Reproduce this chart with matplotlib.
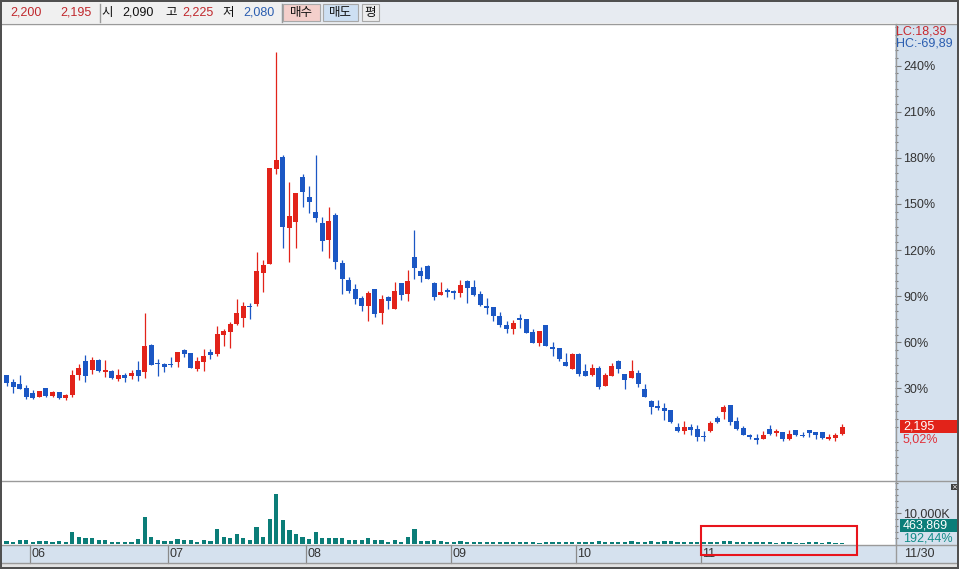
import matplotlib
matplotlib.use("Agg")
import matplotlib.pyplot as plt
from matplotlib import font_manager
from matplotlib.patches import Rectangle
from matplotlib.lines import Line2D
from matplotlib.transforms import blended_transform_factory
from matplotlib.ticker import FixedLocator, FixedFormatter

# ---------------- data (daily candles, won) ----------------
opens = [2900, 2805, 2775, 2720, 2655, 2605, 2720, 2615, 2665, 2590,
         2625, 2900, 3090, 2965, 3100, 2940, 2950, 2845, 2900, 2885,
         2965, 2945, 3305, 3060, 3050, 3045, 3075, 3240, 3195, 2975,
         3075, 3210, 3180, 3440, 3485, 3595, 3675, 3835, 3865, 4285,
         4410, 5705, 5865, 4900, 4985, 5595, 5320, 5115, 4970, 4735,
         5080, 4425, 4190, 4070, 3950, 3840, 4070, 3745, 3960, 3790,
         4150, 4005, 4505, 4315, 4380, 4155, 3985, 4055, 4035, 4015,
         4175, 4095, 4000, 3835, 3820, 3700, 3580, 3525, 3675, 3660,
         3485, 3335, 3580, 3280, 3265, 3075, 2985, 3185, 2950, 2900,
         2995, 2750, 2890, 3090, 2910, 2860, 2925, 2710, 2545, 2475,
         2450, 2420, 2185, 2135, 2190, 2165, 2070, 2135, 2315, 2395,
         2490, 2270, 2175, 2080, 2040, 2030, 2165, 2110, 2125, 2030,
         2150, 2080, 2150, 2125, 2125, 2030, 2040, 2090]
highs = [2900, 2845, 2900, 2760, 2690, 2675, 2720, 2685, 2665, 2635,
         2965, 3050, 3165, 3140, 3110, 3100, 2965, 2980, 2925, 2960,
         3090, 3740, 3315, 3115, 3065, 3140, 3210, 3255, 3195, 3140,
         3250, 3250, 3565, 3520, 3620, 3930, 3890, 3880, 4570, 4460,
         5710, 7290, 5890, 5525, 5370, 5630, 5470, 5890, 5050, 5185,
         5105, 4460, 4225, 4135, 3970, 4045, 4070, 3980, 3970, 4165,
         4150, 4330, 4870, 4365, 4395, 4165, 4165, 4080, 4050, 4190,
         4190, 4190, 4040, 3945, 3820, 3755, 3630, 3640, 3730, 3660,
         3520, 3490, 3580, 3345, 3265, 3195, 3195, 3195, 3050, 3050,
         3025, 2925, 3060, 3100, 2910, 3100, 2965, 2775, 2560, 2560,
         2515, 2420, 2240, 2270, 2230, 2220, 2135, 2270, 2340, 2490,
         2490, 2325, 2205, 2095, 2095, 2135, 2220, 2165, 2125, 2150,
         2150, 2125, 2150, 2125, 2125, 2095, 2110, 2225]
lows = [2750, 2650, 2705, 2570, 2575, 2595, 2595, 2595, 2570, 2555,
        2605, 2830, 2805, 2910, 2945, 2875, 2845, 2820, 2805, 2845,
        2820, 2860, 3035, 2890, 2940, 3010, 3005, 3145, 2995, 2950,
        2955, 3115, 3155, 3290, 3265, 3580, 3550, 3660, 3835, 4025,
        4410, 5630, 4630, 4440, 4630, 5185, 5105, 4985, 4590, 4495,
        4345, 3995, 4015, 3865, 3770, 3635, 3685, 3595, 3790, 3790,
        3920, 3910, 4210, 4165, 4210, 3920, 3985, 3965, 3935, 3965,
        3880, 3970, 3840, 3730, 3635, 3555, 3475, 3460, 3540, 3475,
        3335, 3295, 3295, 3155, 3090, 3025, 2985, 2890, 2890, 2885,
        2710, 2750, 2890, 2930, 2710, 2860, 2740, 2605, 2370, 2420,
        2290, 2250, 2125, 2100, 2080, 2005, 2005, 2125, 2250, 2300,
        2220, 2150, 2080, 2030, 1960, 2030, 2080, 2070, 2000, 2015,
        2070, 2055, 2055, 2030, 2030, 2015, 2000, 2080]
closes = [2785, 2730, 2710, 2605, 2590, 2675, 2615, 2665, 2590, 2625,
          2900, 2995, 2885, 3100, 2955, 2965, 2855, 2900, 2860, 2925,
          2885, 3290, 3040, 3050, 3010, 3030, 3210, 3185, 2995, 3090,
          3155, 3170, 3455, 3500, 3590, 3740, 3835, 3825, 4310, 4395,
          5710, 5820, 4915, 5060, 5370, 5390, 5255, 5035, 4725, 4990,
          4440, 4210, 4045, 3935, 3835, 4010, 3730, 3935, 3910, 4040,
          3990, 4175, 4355, 4250, 4210, 3965, 4025, 4020, 4010, 4120,
          4085, 3985, 3850, 3815, 3705, 3580, 3530, 3605, 3650, 3475,
          3335, 3490, 3295, 3255, 3120, 3025, 3185, 2910, 2890, 2995,
          2740, 2900, 3020, 2985, 2835, 2950, 2780, 2605, 2465, 2445,
          2410, 2265, 2135, 2190, 2150, 2060, 2055, 2245, 2265, 2465,
          2260, 2165, 2080, 2055, 2015, 2080, 2095, 2130, 2030, 2095,
          2085, 2070, 2115, 2085, 2040, 2055, 2080, 2195]
volumes = [980000, 650000, 1300000, 1300000, 650000, 980000, 980000, 650000, 980000, 650000,
           3910000, 2280000, 1950000, 1950000, 1300000, 1300000, 650000, 650000, 650000, 650000,
           1630000, 8800000, 2280000, 1300000, 980000, 980000, 1630000, 1300000, 1300000, 650000,
           1300000, 980000, 4890000, 2280000, 1950000, 3260000, 1950000, 1300000, 5540000, 2280000,
           8150000, 16300000, 7820000, 4560000, 3260000, 2280000, 1630000, 3910000, 1950000, 1950000,
           1950000, 1950000, 1300000, 1300000, 1300000, 1950000, 1300000, 1300000, 650000, 1300000,
           650000, 2280000, 4890000, 980000, 980000, 1300000, 980000, 650000, 650000, 980000,
           650000, 650000, 650000, 650000, 650000, 650000, 650000, 650000, 650000, 650000,
           650000, 350000, 650000, 650000, 650000, 650000, 650000, 650000, 650000, 650000,
           980000, 650000, 650000, 650000, 650000, 980000, 650000, 650000, 980000, 650000,
           980000, 980000, 650000, 650000, 650000, 650000, 650000, 650000, 650000, 980000,
           980000, 650000, 650000, 650000, 650000, 650000, 650000, 350000, 650000, 650000,
           350000, 350000, 650000, 650000, 350000, 650000, 241045, 463869]

month_labels = ["06", "07", "08", "09", "10", "11"]
month_start = [4, 25, 46, 68, 87, 106]
last_date = "11/30"
base_price = 2090            # 0% reference of the right scale
pct_major = [30, 60, 90, 120, 150, 180, 210, 240]
lc_value = 18.39
toolbar_prev = "2,200"

# ---------------- style ----------------
W, H = 959, 569
UP = "#e2231a"
DOWN = "#1b57c4"
VOLC = "#0b7d78"
STRIP = "#d5e1ee"
GRAYLINE = "#9a9a9a"
DARK = "#505050"

names = {f.name for f in font_manager.fontManager.ttflist}
NARROW = "Liberation Sans Narrow" if "Liberation Sans Narrow" in names else "Liberation Sans"
LS = "Liberation Sans"
KR = ["Noto Sans CJK KR", "DejaVu Sans"]
plt.rcParams["font.family"] = [NARROW, "DejaVu Sans"]


def fx(px):
    return px / W


def fy(py):
    return 1 - py / H


fig = plt.figure(figsize=(W / 100, H / 100), dpi=100)
fig.patch.set_facecolor("white")

# background strips
def frect(x0, y0, x1, y1, fc, ec="none", z=-1, lw=0.0):
    r = Rectangle((fx(x0), fy(y1)), fx(x1) - fx(x0), fy(y0) - fy(y1),
                  transform=fig.transFigure, facecolor=fc, edgecolor=ec,
                  linewidth=lw, zorder=z)
    fig.add_artist(r)
    return r

frect(0, 0, W, 2, DARK, z=6)
frect(0, 0, 2, H, DARK, z=6)
frect(957, 0, W, H, DARK, z=6)
frect(0, 567, W, H, DARK, z=6)
frect(2, 2, 281, 23, "#f0f0f0")
frect(281, 2, 957, 23, "#e7ebf1")
frect(895, 24, 957, 563, STRIP)
frect(2, 545, 895, 563, STRIP)
frect(2, 563, 957, 567, "#e2e2e2")


def fline(x0, y0, x1, y1, c=GRAYLINE, lw=1.0, z=5):
    fig.add_artist(Line2D([fx(x0), fx(x1)], [fy(y0), fy(y1)], transform=fig.transFigure,
                          color=c, linewidth=lw, zorder=z))

fline(2, 24, 957, 24)
fline(2, 480.5, 957, 480.5)
fline(2, 544.5, 957, 544.5)
fline(2, 563, 957, 563)
fline(895.5, 24, 895.5, 563)
fline(99.5, 4, 99.5, 22)
fline(281.5, 4, 281.5, 22)

# toolbar
def ftext(x, y, s, color="#111111", family=LS, size=9, ha="left", z=7):
    fig.text(fx(x), fy(y), s, color=color, family=family, fontsize=size,
             ha=ha, va="center", zorder=z)

ftext(10, 12.5, toolbar_prev, "#c0282d")
ftext(60, 12.5, f"{closes[-1]:,}", "#c0282d")
ftext(101, 12.5, "시", family=KR)
ftext(122, 12.5, f"{opens[-1]:,}")
ftext(165, 12.5, "고", family=KR)
ftext(182, 12.5, f"{highs[-1]:,}", "#c0282d")
ftext(222, 12.5, "저", family=KR)
ftext(243, 12.5, f"{lows[-1]:,}", "#2a5db0")
frect(283, 4, 320, 21, "#f4cfcb", ec="#a8a8a8", z=2, lw=0.8)
frect(323, 4, 358, 21, "#cddff2", ec="#a8a8a8", z=2, lw=0.8)
frect(362, 4, 379, 21, "#ececec", ec="#a8a8a8", z=2, lw=0.8)
ftext(301.5, 12.5, "매수", family=KR, ha="center")
ftext(340.5, 12.5, "매도", family=KR, ha="center")
ftext(370.5, 12.5, "평", family=KR, ha="center")

# ---------------- axes ----------------
n = len(opens)
xs = list(range(n))
xmin, xmax = -0.684, 135.05
ppx = base_price * 0.30 / 46.1          # won per pixel of the scale
y0_px = 434.4                           # pixel of 0 %
ylo = base_price - (480 - y0_px) * ppx
yhi = base_price + (y0_px - 25) * ppx

ax = fig.add_axes([fx(2), fy(480), fx(895) - fx(2), fy(25) - fy(480)])
axv = fig.add_axes([fx(2), fy(544), fx(895) - fx(2), fy(481) - fy(544)])

for a in (ax, axv):
    a.set_xlim(xmin, xmax)
    a.set_xticks([])
    for s in a.spines.values():
        s.set_visible(False)
    a.yaxis.tick_right()
    a.tick_params(axis="y", which="major", direction="out", length=4, width=0.8,
                  color="#7a7a7a", pad=2, labelsize=9, labelcolor="#333333")
    a.tick_params(axis="y", which="minor", direction="out", length=2.2, width=0.8,
                  color="#7a7a7a")

ax.set_ylim(ylo, yhi)
major_locs = [base_price * (1 + p / 100) for p in pct_major]
minor_locs = [base_price * (1 + p / 100) for p in range(-25, 270, 5) if p % 30 != 0]
ax.yaxis.set_major_locator(FixedLocator(major_locs))
ax.yaxis.set_major_formatter(FixedFormatter([f"{p}%" for p in pct_major]))
ax.yaxis.set_minor_locator(FixedLocator(minor_locs))

# candles
cols = [UP if c >= o else DOWN for o, c in zip(opens, closes)]
ax.vlines(xs, lows, highs, colors=cols, linewidth=0.9, zorder=2)
bodies = [max(abs(c - o), 14) for o, c in zip(opens, closes)]
bottoms = [min(o, c) for o, c in zip(opens, closes)]
ax.bar(xs, bodies, bottom=bottoms, width=0.76, color=cols, linewidth=0, zorder=3)

# volume
vmax = 63 / 3.07 * 1e7 / 10
axv.set_ylim(0, 20.5e6)
axv.bar(xs, volumes, width=0.64, color=VOLC, linewidth=0)
axv.yaxis.set_major_locator(FixedLocator([10e6]))
axv.yaxis.set_major_formatter(FixedFormatter([f"{int(10e6) // 1000:,}K"]))
axv.yaxis.set_minor_locator(FixedLocator([v * 1e6 for v in (2, 4, 6, 8, 12, 14, 16, 18, 20)]))

# month axis
tb = blended_transform_factory(axv.transData, fig.transFigure)
for lab, st in zip(month_labels, month_start):
    b = st - 0.5
    axv.add_line(Line2D([b, b], [fy(545), fy(563)], transform=tb, color="#8a8a8a",
                        linewidth=0.9, clip_on=False))
    axv.text(b + 0.25, fy(554), lab, transform=tb, fontsize=9, color="#333333",
             ha="left", va="center", clip_on=False)
ftext(904, 554, last_date, "#333333", family=NARROW)

# right-side price labels
tp = blended_transform_factory(fig.transFigure, ax.transData)
last_close = closes[-1]
ax.add_patch(Rectangle((fx(900), last_close - 6.2 * ppx), fx(957) - fx(900), 12.4 * ppx,
                       transform=tp, facecolor=UP, edgecolor="none", clip_on=False, zorder=6))
ax.text(fx(903), last_close, f"{last_close:,}", transform=tp, color="white", fontsize=9,
        va="center", ha="left", clip_on=False, zorder=7)
chg = (last_close - base_price) / base_price * 100
ax.text(fx(903), last_close - 12.6 * ppx, f"{chg:.2f}%".replace(".", ","), transform=tp,
        color="#e0303a", fontsize=9, va="center", ha="left", clip_on=False, zorder=7)

hc = (last_close / max(highs) - 1) * 100
ftext(896, 32, f"LC:{lc_value:.2f}".replace(".", ","), "#c8282d", family=NARROW)
ftext(896, 44, f"HC:{hc:.2f}".replace(".", ","), "#2a5db0", family=NARROW)

# right-side volume labels
tv = blended_transform_factory(fig.transFigure, axv.transAxes)
axv.add_patch(Rectangle((fx(900), (544 - 531.7) / 63), fx(957) - fx(900), 12.4 / 63,
                        transform=tv, facecolor=VOLC, edgecolor="none", clip_on=False, zorder=6))
axv.text(fx(903), (544 - 525.5) / 63, f"{volumes[-1]:,}", transform=tv, color="white",
         fontsize=9, va="center", ha="left", clip_on=False, zorder=7)
vchg = volumes[-1] / volumes[-2] * 100
axv.text(fx(903), (544 - 538.3) / 63, f"{vchg:.2f}%".replace(".", ","), transform=tv,
         color="#128c88", fontsize=9, va="center", ha="left", clip_on=False, zorder=7)

# small close button of the volume pane
frect(951, 484, 957, 490, "#404040", z=7)
ftext(954, 487, "×", "white", family="DejaVu Sans", size=5, ha="center", z=8)

# red highlight box
fig.add_artist(Rectangle((fx(701), fy(555)), fx(856.5) - fx(701), fy(525.7) - fy(555),
                         transform=fig.transFigure, facecolor="none", edgecolor="#e8141c",
                         linewidth=1.5, zorder=9))

fig.savefig("out.png", dpi=100)
